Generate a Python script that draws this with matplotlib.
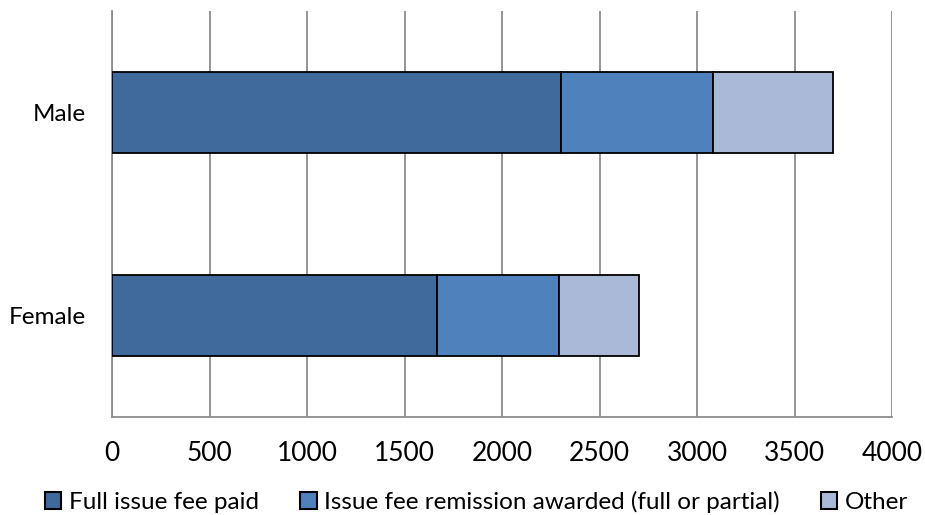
import matplotlib
matplotlib.use("Agg")
import matplotlib.pyplot as plt
from matplotlib.patches import Patch

# Applications by sex, split by how the issue fee was handled
groups = ["Female", "Male"]
full_fee_paid = [1665, 2305]
fee_remission = [627, 775]
other = [410, 615]

series_labels = [
    "Full issue fee paid",
    "Issue fee remission awarded (full or partial)",
    "Other",
]
colors = ["#406A9B", "#4F81BD", "#AAB9D7"]
x_ticks = [0, 500, 1000, 1500, 2000, 2500, 3000, 3500, 4000]

plt.rcParams["font.family"] = ["Lato", "DejaVu Sans"]

fig = plt.figure(figsize=(9.25, 5.15), dpi=100)
ax = fig.add_axes([112 / 925, 1 - 417.3 / 515, 780 / 925, 406.6 / 515])

ypos = list(range(len(groups)))
left = [0] * len(groups)
for vals, col in zip([full_fee_paid, fee_remission, other], colors):
    ax.barh(ypos, vals, left=left, height=0.4, color=col,
            edgecolor="black", linewidth=1.3, zorder=3)
    left = [a + b for a, b in zip(left, vals)]

ax.set_xlim(0, 4000)
ax.set_ylim(-0.5, 1.5)
ax.set_xticks(x_ticks)
ax.set_xticklabels([str(t) for t in x_ticks])
ax.set_yticks(ypos)
ax.set_yticklabels(groups)

ax.grid(axis="x", color="#8C8C8C", linewidth=1.3, zorder=0)
ax.set_axisbelow(True)
for s in ["top", "right"]:
    ax.spines[s].set_visible(False)
for s in ["left", "bottom"]:
    ax.spines[s].set_color("#8C8C8C")
    ax.spines[s].set_linewidth(1.3)

ax.tick_params(axis="x", length=0, pad=17, labelsize=19, colors="black")
ax.tick_params(axis="y", length=0, pad=19, labelsize=17.5, colors="black")

handles = [Patch(facecolor=c, edgecolor="black", linewidth=1.5) for c in colors]
fig.legend(handles, series_labels, loc="center", bbox_to_anchor=(0.515, 1 - 502 / 515),
           ncol=3, frameon=False, fontsize=17.5, handlelength=0.68, handleheight=0.68,
           handletextpad=0.3, columnspacing=1.7, borderaxespad=0, borderpad=0)

fig.savefig("out.png", dpi=100)
